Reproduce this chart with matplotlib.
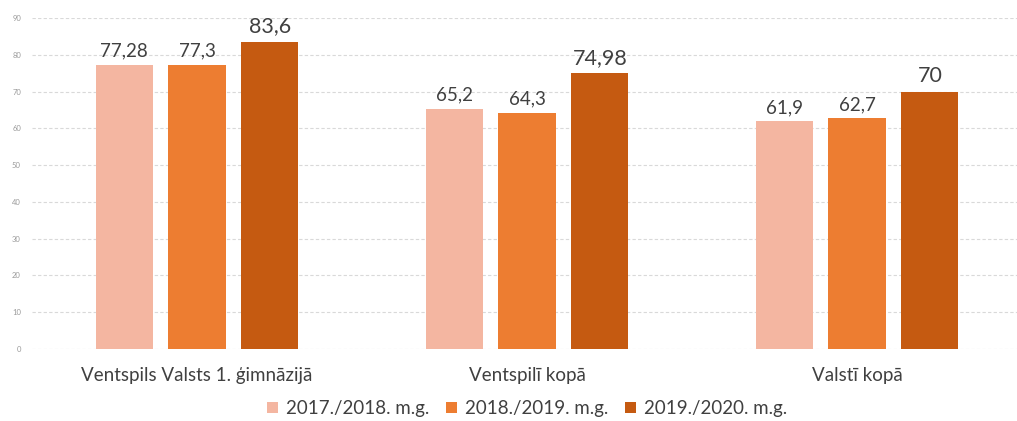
import matplotlib.pyplot as plt
import numpy as np

plt.rcParams['font.family'] = ['Lato', 'DejaVu Sans']

# data
categories = ['Ventspils Valsts 1. ģimnāzijā', 'Ventspilī kopā', 'Valstī kopā']
series_names = ['2017./2018. m.g.', '2018./2019. m.g.', '2019./2020. m.g.']
vals_2017 = [77.28, 65.2, 61.9]
vals_2018 = [77.3, 64.3, 62.7]
vals_2019 = [83.6, 74.98, 70]
labels_2017 = ['77,28', '65,2', '61,9']
labels_2018 = ['77,3', '64,3', '62,7']
labels_2019 = ['83,6', '74,98', '70']

colors = ['#F4B6A1', '#ED7D31', '#C55A11']
all_vals = [vals_2017, vals_2018, vals_2019]
all_labels = [labels_2017, labels_2018, labels_2019]
label_sizes = [13.5, 13.5, 15.5]

fig = plt.figure(figsize=(10.17, 4.21), dpi=100)
ax = fig.add_axes([32 / 1017, 0.171, 990 / 1017, 0.786])

x = np.arange(len(categories))
width = 0.173
step = 0.221
for i in range(3):
    pos = x + (i - 1) * step
    bars = ax.bar(pos, all_vals[i], width, color=colors[i], label=series_names[i], zorder=3)
    for b, txt in zip(bars, all_labels[i]):
        ax.text(b.get_x() + b.get_width() / 2, b.get_height() + 1.5, txt,
                ha='center', va='bottom', fontsize=label_sizes[i], color='#404040')

ax.set_xlim(-0.5, 2.5)
ax.set_ylim(0, 90)
ax.set_yticks(range(0, 91, 10))
ax.tick_params(axis='y', labelsize=5.5, colors='#9a9a9a', length=0, pad=8)
ax.tick_params(axis='x', length=0, labelsize=13.5, labelcolor='#404040', pad=13)
ax.set_xticks(x)
ax.set_xticklabels(categories)
ax.grid(axis='y', color='#d9d9d9', linestyle=(0, (3, 2)), linewidth=0.8, zorder=0)
for s in ax.spines.values():
    s.set_visible(False)

ax.legend(loc='center', bbox_to_anchor=(0.5, -0.18), ncol=3, frameon=False,
          fontsize=13.5, handlelength=0.6, handleheight=0.6, handletextpad=0.4,
          columnspacing=0.9, labelcolor='#404040', borderpad=0)

plt.savefig('out.png', dpi=100)
